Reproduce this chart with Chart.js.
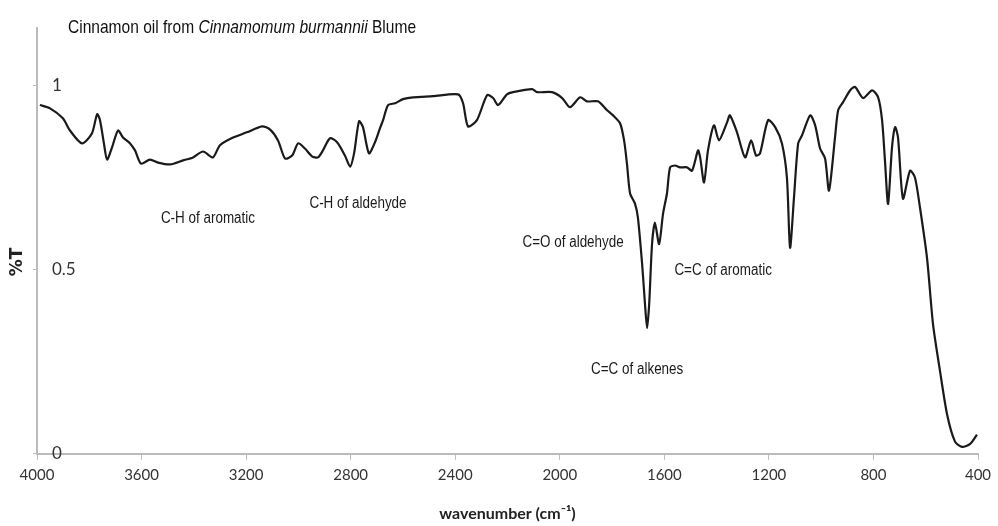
<!DOCTYPE html>
<html>
<head>
<meta charset="utf-8">
<script src="https://cdn.jsdelivr.net/npm/chart.js@4/dist/chart.umd.min.js"></script>
<style>
  body { margin: 0; background: #fff; }
  #wrap { width: 998px; height: 526px; }
</style>
</head>
<body>
<div id="wrap"><canvas id="irChart" width="998" height="526"></canvas></div>
<script>
// wavenumber (cm-1) and transmittance
const wavenumbers = [
    3989, 3950, 3901, 3874, 3828, 3790, 3770, 3759, 3744, 3732, 3713, 3690, 3671, 3644, 3625, 3602,
    3568, 3537, 3491, 3441, 3403, 3365, 3327, 3300, 3250, 3197, 3139, 3109, 3078, 3051, 3024, 3001,
    2975, 2948, 2925, 2906, 2879, 2852, 2822, 2802, 2787, 2768, 2753, 2730, 2707, 2688, 2676, 2657,
    2630, 2600, 2561, 2485, 2389, 2370, 2351, 2317, 2278, 2255, 2236, 2202, 2179, 2106, 2087, 2030,
    1991, 1961, 1922, 1896, 1854, 1819, 1796, 1769, 1754, 1743, 1731, 1712, 1701, 1685, 1674, 1666,
    1658, 1647, 1636, 1620, 1605, 1590, 1578, 1559, 1540, 1513, 1494, 1471, 1463, 1448, 1433, 1410,
    1391, 1360, 1349, 1322, 1291, 1268, 1249, 1234, 1203, 1176, 1150, 1131, 1119, 1104, 1088, 1073,
    1042, 1023, 1004, 985, 970, 947, 935, 916, 889, 870, 840, 805, 782, 767, 756, 744,
    729, 717, 706, 687, 660, 641, 622, 595, 572, 545, 518, 488, 461, 430, 404
];
const transmittance = [
    0.946, 0.937, 0.910, 0.877, 0.842, 0.869, 0.921, 0.905, 0.842, 0.798, 0.831, 0.877, 0.858, 0.842, 0.823, 0.787,
    0.798, 0.790, 0.785, 0.796, 0.804, 0.820, 0.804, 0.837, 0.858, 0.872, 0.888, 0.880, 0.850, 0.801, 0.809, 0.842,
    0.828, 0.807, 0.804, 0.823, 0.856, 0.845, 0.809, 0.779, 0.815, 0.902, 0.886, 0.815, 0.845, 0.883, 0.905, 0.946,
    0.951, 0.962, 0.967, 0.970, 0.975, 0.951, 0.888, 0.905, 0.973, 0.965, 0.946, 0.975, 0.981, 0.989, 0.981, 0.981,
    0.965, 0.940, 0.967, 0.956, 0.956, 0.932, 0.918, 0.896, 0.850, 0.787, 0.706, 0.678, 0.640, 0.515, 0.406, 0.341,
    0.406, 0.569, 0.627, 0.569, 0.651, 0.706, 0.777, 0.782, 0.777, 0.777, 0.768, 0.823, 0.804, 0.736, 0.823, 0.891,
    0.850, 0.899, 0.918, 0.872, 0.804, 0.850, 0.809, 0.815, 0.905, 0.886, 0.842, 0.749, 0.559, 0.695, 0.842, 0.864,
    0.918, 0.891, 0.828, 0.801, 0.714, 0.858, 0.932, 0.954, 0.986, 0.995, 0.965, 0.986, 0.967, 0.905, 0.796, 0.678,
    0.831, 0.886, 0.858, 0.692, 0.768, 0.749, 0.668, 0.531, 0.351, 0.223, 0.106, 0.033, 0.019, 0.027, 0.052
];
const xTicks = [4000, 3600, 3200, 2800, 2400, 2000, 1600, 1200, 800, 400];
const yTicks = [0, 0.5, 1];

// band assignments, anchored in data coordinates
const bandLabels = ['C-H of aromatic', 'C-H of aldehyde', 'C=O of aldehyde', 'C=C of alkenes', 'C=C of aromatic'];
const bandWavenumbers = [3346, 2772, 1949, 1704, 1375];
const bandValues = [0.638, 0.678, 0.572, 0.229, 0.496];

const sans = '"Liberation Sans", Arial, sans-serif';
const squeeze = 0.84; // fake a narrow face

const textPlugin = {
    id: 'textPlugin',
    afterDraw(chart) {
        const ctx = chart.ctx;
        const xs = chart.scales.x, ys = chart.scales.y;
        ctx.save();
        ctx.textBaseline = 'middle';

        // title with italic species name
        const parts = [
            ['normal', 'Cinnamon oil from '],
            ['italic', 'Cinnamomum burmannii'],
            ['normal', ' Blume']
        ];
        ctx.save();
        ctx.translate(68, 28);
        ctx.scale(squeeze, 1);
        ctx.fillStyle = '#111';
        ctx.textAlign = 'left';
        let x = 0;
        parts.forEach(function (p) {
            ctx.font = p[0] + ' 18.5px ' + sans;
            ctx.fillText(p[1], x, 0);
            x += ctx.measureText(p[1]).width;
        });
        ctx.restore();

        // band labels
        ctx.font = '16px ' + sans;
        ctx.textAlign = 'center';
        ctx.fillStyle = '#1a1a1a';
        bandLabels.forEach(function (label, i) {
            ctx.save();
            ctx.translate(xs.getPixelForValue(bandWavenumbers[i]), ys.getPixelForValue(bandValues[i]));
            ctx.scale(squeeze, 1);
            ctx.fillText(label, 0, 0);
            ctx.restore();
        });

        // y axis title
        ctx.font = 'bold 17px "DejaVu Sans", sans-serif';
        ctx.translate(18, 262);
        ctx.rotate(-Math.PI / 2);
        ctx.fillStyle = '#222';
        ctx.fillText('%T', 0, 0);
        ctx.restore();
    }
};

const ctx = document.getElementById('irChart').getContext('2d');
const irChart = new Chart(ctx, {
    type: 'line',
    data: {
        datasets: [{
            data: wavenumbers.map((w, i) => ({ x: w, y: transmittance[i] })),
            borderColor: '#1a1a1a',
            borderWidth: 2.2,
            pointRadius: 0,
            tension: 0.25,
            fill: false
        }]
    },
    options: {
        responsive: false,
        animation: false,
        layout: {
            padding: { top: 28, left: 3, right: 20, bottom: 0 }
        },
        scales: {
            x: {
                type: 'linear',
                reverse: true,
                min: 400,
                max: 4000,
                afterBuildTicks: (axis) => { axis.ticks = xTicks.map(v => ({ value: v })); },
                grid: { drawOnChartArea: false, drawTicks: true, tickLength: 6, color: '#bbb' },
                border: { color: '#bbb', width: 2 },
                ticks: {
                    color: '#333',
                    padding: 6,
                    maxRotation: 0,
                    font: { family: 'Lato, "Open Sans", sans-serif', size: 15 },
                    callback: (v) => v
                },
                title: {
                    display: true,
                    text: 'wavenumber (cm\u207B\u00B9)',
                    color: '#222',
                    font: { family: 'Lato, "Open Sans", sans-serif', size: 16, weight: 'bold' },
                    padding: { top: 14, bottom: 3 }
                }
            },
            y: {
                min: 0,
                max: 1.155,
                afterBuildTicks: (axis) => { axis.ticks = yTicks.map(v => ({ value: v })); },
                grid: { drawOnChartArea: false, drawTicks: true, tickLength: 4, color: '#bbb' },
                border: { color: '#bbb', width: 2 },
                ticks: {
                    mirror: true,
                    padding: 15,
                    color: '#333',
                    font: { family: 'Lato, "Open Sans", sans-serif', size: 17 },
                    callback: (v) => v
                }
            }
        },
        plugins: {
            legend: { display: false },
            tooltip: { enabled: false }
        }
    },
    plugins: [textPlugin]
});
</script>
</body>
</html>
